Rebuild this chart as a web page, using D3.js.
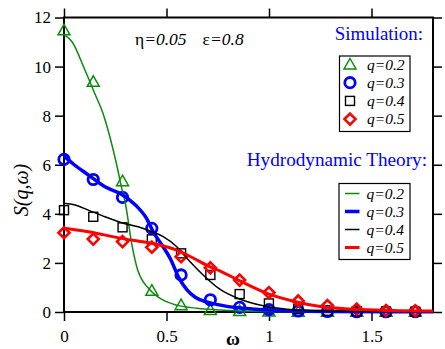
<!DOCTYPE html>
<html>
<head>
<meta charset="utf-8">
<script src="https://cdn.jsdelivr.net/npm/d3@7"></script>
<style>
  body { margin: 0; background: #fff; }
  svg text { font-family: "Liberation Serif", "DejaVu Serif", "Times New Roman", serif; }
</style>
</head>
<body>
<div id="chart"></div>
<script>
// simulation frequencies and values
var omegaSim = [0, 0.1428, 0.2856, 0.4284, 0.5712, 0.714, 0.8568, 0.9996, 1.1424, 1.2852, 1.428, 1.5708, 1.7136];
var simQ02 = [11.48, 9.38, 5.33, 0.87, 0.28, 0.08, 0.04, 0.02, 0.01, 0.01, 0.01, 0.01, 0.01];
var simQ03 = [6.22, 5.40, 4.67, 3.41, 1.51, 0.50, 0.19, 0.10, 0.04, 0.02, 0.01, 0.01, 0.01];
var simQ04 = [4.15, 3.88, 3.45, 2.96, 2.39, 1.51, 0.73, 0.35, 0.12, 0.05, 0.03, 0.02, 0.01];
var simQ05 = [3.23, 2.97, 2.87, 2.64, 2.25, 1.80, 1.30, 0.79, 0.45, 0.26, 0.12, 0.06, 0.05];

// theory curves
var thOmega02 = [0, 0.04, 0.1, 0.15, 0.19, 0.225, 0.257, 0.28, 0.3, 0.33, 0.36, 0.42, 0.48, 0.55, 0.65, 0.76, 0.9, 1.1, 1.4, 1.8];
var thQ02 = [11.3, 11.0, 9.9, 8.9, 8.1, 7.1, 6.0, 5.1, 4.4, 2.8, 1.7, 0.9, 0.5, 0.28, 0.15, 0.08, 0.03, 0.01, 0.0, 0.0];
var thOmega03 = [0, 0.05, 0.12, 0.2, 0.28, 0.35, 0.4, 0.44, 0.48, 0.52, 0.56, 0.6, 0.64, 0.7, 0.75, 0.85, 0.95, 1.1, 1.3, 1.8];
var thQ03 = [6.35, 6.0, 5.58, 5.1, 4.8, 4.35, 3.85, 3.2, 2.7, 2.15, 1.4, 0.9, 0.6, 0.4, 0.3, 0.17, 0.1, 0.05, 0.02, 0.01];
var thOmega04 = [0, 0.054, 0.119, 0.2, 0.281, 0.362, 0.42, 0.484, 0.55, 0.615, 0.68, 0.76, 0.847, 0.99, 1.135, 1.25, 1.5, 1.8];
var thQ04 = [4.43, 4.36, 4.15, 3.88, 3.64, 3.47, 3.3, 3.07, 2.66, 2.05, 1.5, 0.93, 0.56, 0.22, 0.08, 0.04, 0.02, 0.01];
var thOmega05 = [0, 0.119, 0.28, 0.44, 0.55, 0.63, 0.71, 0.76, 0.85, 0.99, 1.13, 1.25, 1.41, 1.6, 1.8];
var thQ05 = [3.41, 3.27, 3.0, 2.78, 2.52, 2.2, 1.85, 1.68, 1.3, 0.76, 0.42, 0.22, 0.11, 0.06, 0.04];

var seriesNames = ["q=0.2", "q=0.3", "q=0.4", "q=0.5"];
var xTickLabels = [0, 0.5, 1, 1.5];
var yTickLabels = [0, 2, 4, 6, 8, 10, 12];

var svgWidth = 445;
var svgHeight = 349;
var margin = { top: 17.5, bottom: 37, left: 64, right: 12 };
var width = svgWidth - margin.left - margin.right;
var height = svgHeight - margin.top - margin.bottom;

var serif = "Liberation Serif";
var green = "#0a8c0a";
var colors = [green, "#0000ff", "#000000", "#ff0000"];

var svg = d3.select("#chart")
    .append("svg")
    .attr("width", svgWidth)
    .attr("height", svgHeight)
    .attr("font-family", serif);

var chartGroup = svg.append("g")
    .attr("transform", `translate(${margin.left}, ${margin.top})`);

var xScale = d3.scaleLinear().domain([0, 1.8]).range([0, width]);
var yScale = d3.scaleLinear().domain([0, 12]).range([height, 0]);

var xMinor = d3.range(0, 1.8001, 0.1).map(d => +d.toFixed(2));
var yMinor = d3.range(0, 12.001, 0.5);

function drawAxis(axisFn, scale, minor, major, labels, transform) {
    var g = chartGroup.append("g").attr("transform", transform);
    g.call(axisFn(scale).tickValues(minor).tickSize(5).tickFormat(""));
    g.call(axisFn(scale).tickValues(major).tickSize(9)
        .tickFormat(labels ? (d => d) : ""));
    g.attr("font-family", serif);
    g.selectAll(".domain").remove();
    g.selectAll("line").attr("stroke", "#000").attr("stroke-width", 1.5);
    g.selectAll("text").attr("font-size", "17px").attr("fill", "#000");
    return g;
}

drawAxis(d3.axisBottom, xScale, xMinor, xTickLabels, true, `translate(0, ${height})`)
    .selectAll("text").attr("dy", "1.05em");
drawAxis(d3.axisTop, xScale, xMinor, xTickLabels, false, "translate(0, 0)");
drawAxis(d3.axisLeft, yScale, yMinor, yTickLabels, true, "translate(0, 0)")
    .selectAll("text").attr("x", -13);
drawAxis(d3.axisRight, yScale, yMinor, yTickLabels, false, `translate(${width}, 0)`);

chartGroup.append("rect")
    .attr("width", width)
    .attr("height", height)
    .attr("fill", "none")
    .attr("stroke", "#000")
    .attr("stroke-width", 2);

// marker shapes
function marker(sel, kind, color) {
    if (kind === 0) {
        sel.append("path").attr("d", "M0,-6L6,4.5L-6,4.5Z")
            .attr("fill", "none").attr("stroke", color).attr("stroke-width", 1.5);
    } else if (kind === 1) {
        sel.append("circle").attr("r", 5.2)
            .attr("fill", "none").attr("stroke", color).attr("stroke-width", 2.8);
    } else if (kind === 2) {
        sel.append("rect").attr("x", -4.5).attr("y", -4.5).attr("width", 9).attr("height", 9)
            .attr("fill", "none").attr("stroke", color).attr("stroke-width", 1.4);
    } else {
        sel.append("path").attr("d", "M0,-5.5L5.5,0L0,5.5L-5.5,0Z")
            .attr("fill", "none").attr("stroke", color).attr("stroke-width", 2.6);
    }
}

var simSets = [simQ02, simQ03, simQ04, simQ05];
simSets.forEach(function(vals, i) {
    chartGroup.append("g")
        .selectAll("g")
        .data(vals)
        .enter()
        .append("g")
        .attr("transform", (d, j) => `translate(${xScale(omegaSim[j])}, ${yScale(d)})`)
        .each(function() { marker(d3.select(this), i, colors[i]); });
});

var thOmegas = [thOmega02, thOmega03, thOmega04, thOmega05];
var thSets = [thQ02, thQ03, thQ04, thQ05];
var lineWidths = [1.5, 3.5, 1.5, 3];

thSets.forEach(function(vals, i) {
    var pts = vals.map((v, j) => [thOmegas[i][j], v]);
    var line = d3.line()
        .x(d => xScale(d[0]))
        .y(d => yScale(d[1]))
        .curve(d3.curveMonotoneX);
    chartGroup.append("path")
        .datum(pts)
        .attr("d", line)
        .attr("fill", "none")
        .attr("stroke", colors[i])
        .attr("stroke-width", lineWidths[i]);
});

// axis labels
svg.append("text")
    .attr("transform", "translate(28, 190) rotate(-90)")
    .attr("text-anchor", "middle")
    .attr("font-size", "20px")
    .attr("font-style", "italic")
    .text("S(q,ω)");

svg.append("text")
    .attr("x", 233)
    .attr("y", 345)
    .attr("text-anchor", "middle")
    .attr("font-size", "19px")
    .attr("font-weight", "bold")
    .text("ω");

// parameters
var param = svg.append("text")
    .attr("x", 135)
    .attr("y", 45)
    .attr("font-size", "17.5px");
param.append("tspan").text("η");
param.append("tspan").attr("font-style", "italic").text("=0.05");
param.append("tspan").attr("dx", 16).text("ε");
param.append("tspan").attr("font-style", "italic").text("=0.8");

// legends
svg.append("text")
    .attr("x", 423).attr("y", 40)
    .attr("text-anchor", "end")
    .attr("font-size", "18.9px")
    .attr("fill", "#0000ff")
    .text("Simulation:");

svg.append("text")
    .attr("x", 427).attr("y", 166)
    .attr("text-anchor", "end")
    .attr("font-size", "19.2px")
    .attr("fill", "#0000ff")
    .text("Hydrodynamic Theory:");

var simLegend = svg.append("g");
simLegend.append("rect")
    .attr("x", 339.5).attr("y", 56).attr("width", 70.5).attr("height", 75.5)
    .attr("fill", "#fff").attr("stroke", "#000").attr("stroke-width", 1.2);
seriesNames.forEach(function(name, i) {
    var y = 64.5 + i * 18.2;
    var g = simLegend.append("g").attr("transform", `translate(350, ${y})`);
    marker(g, i, colors[i]);
    simLegend.append("text")
        .attr("x", 367).attr("y", y + 5)
        .attr("font-size", "15.5px")
        .attr("font-style", "italic")
        .text(name);
});

var thLegend = svg.append("g");
thLegend.append("rect")
    .attr("x", 339).attr("y", 183.5).attr("width", 71).attr("height", 76)
    .attr("fill", "#fff").attr("stroke", "#000").attr("stroke-width", 1.2);
seriesNames.forEach(function(name, i) {
    var y = 193.5 + i * 18;
    thLegend.append("line")
        .attr("x1", 345).attr("x2", 359.5)
        .attr("y1", y).attr("y2", y)
        .attr("stroke", colors[i])
        .attr("stroke-width", lineWidths[i]);
    thLegend.append("text")
        .attr("x", 366.5).attr("y", y + 5)
        .attr("font-size", "15.5px")
        .attr("font-style", "italic")
        .text(name);
});
</script>
</body>
</html>
